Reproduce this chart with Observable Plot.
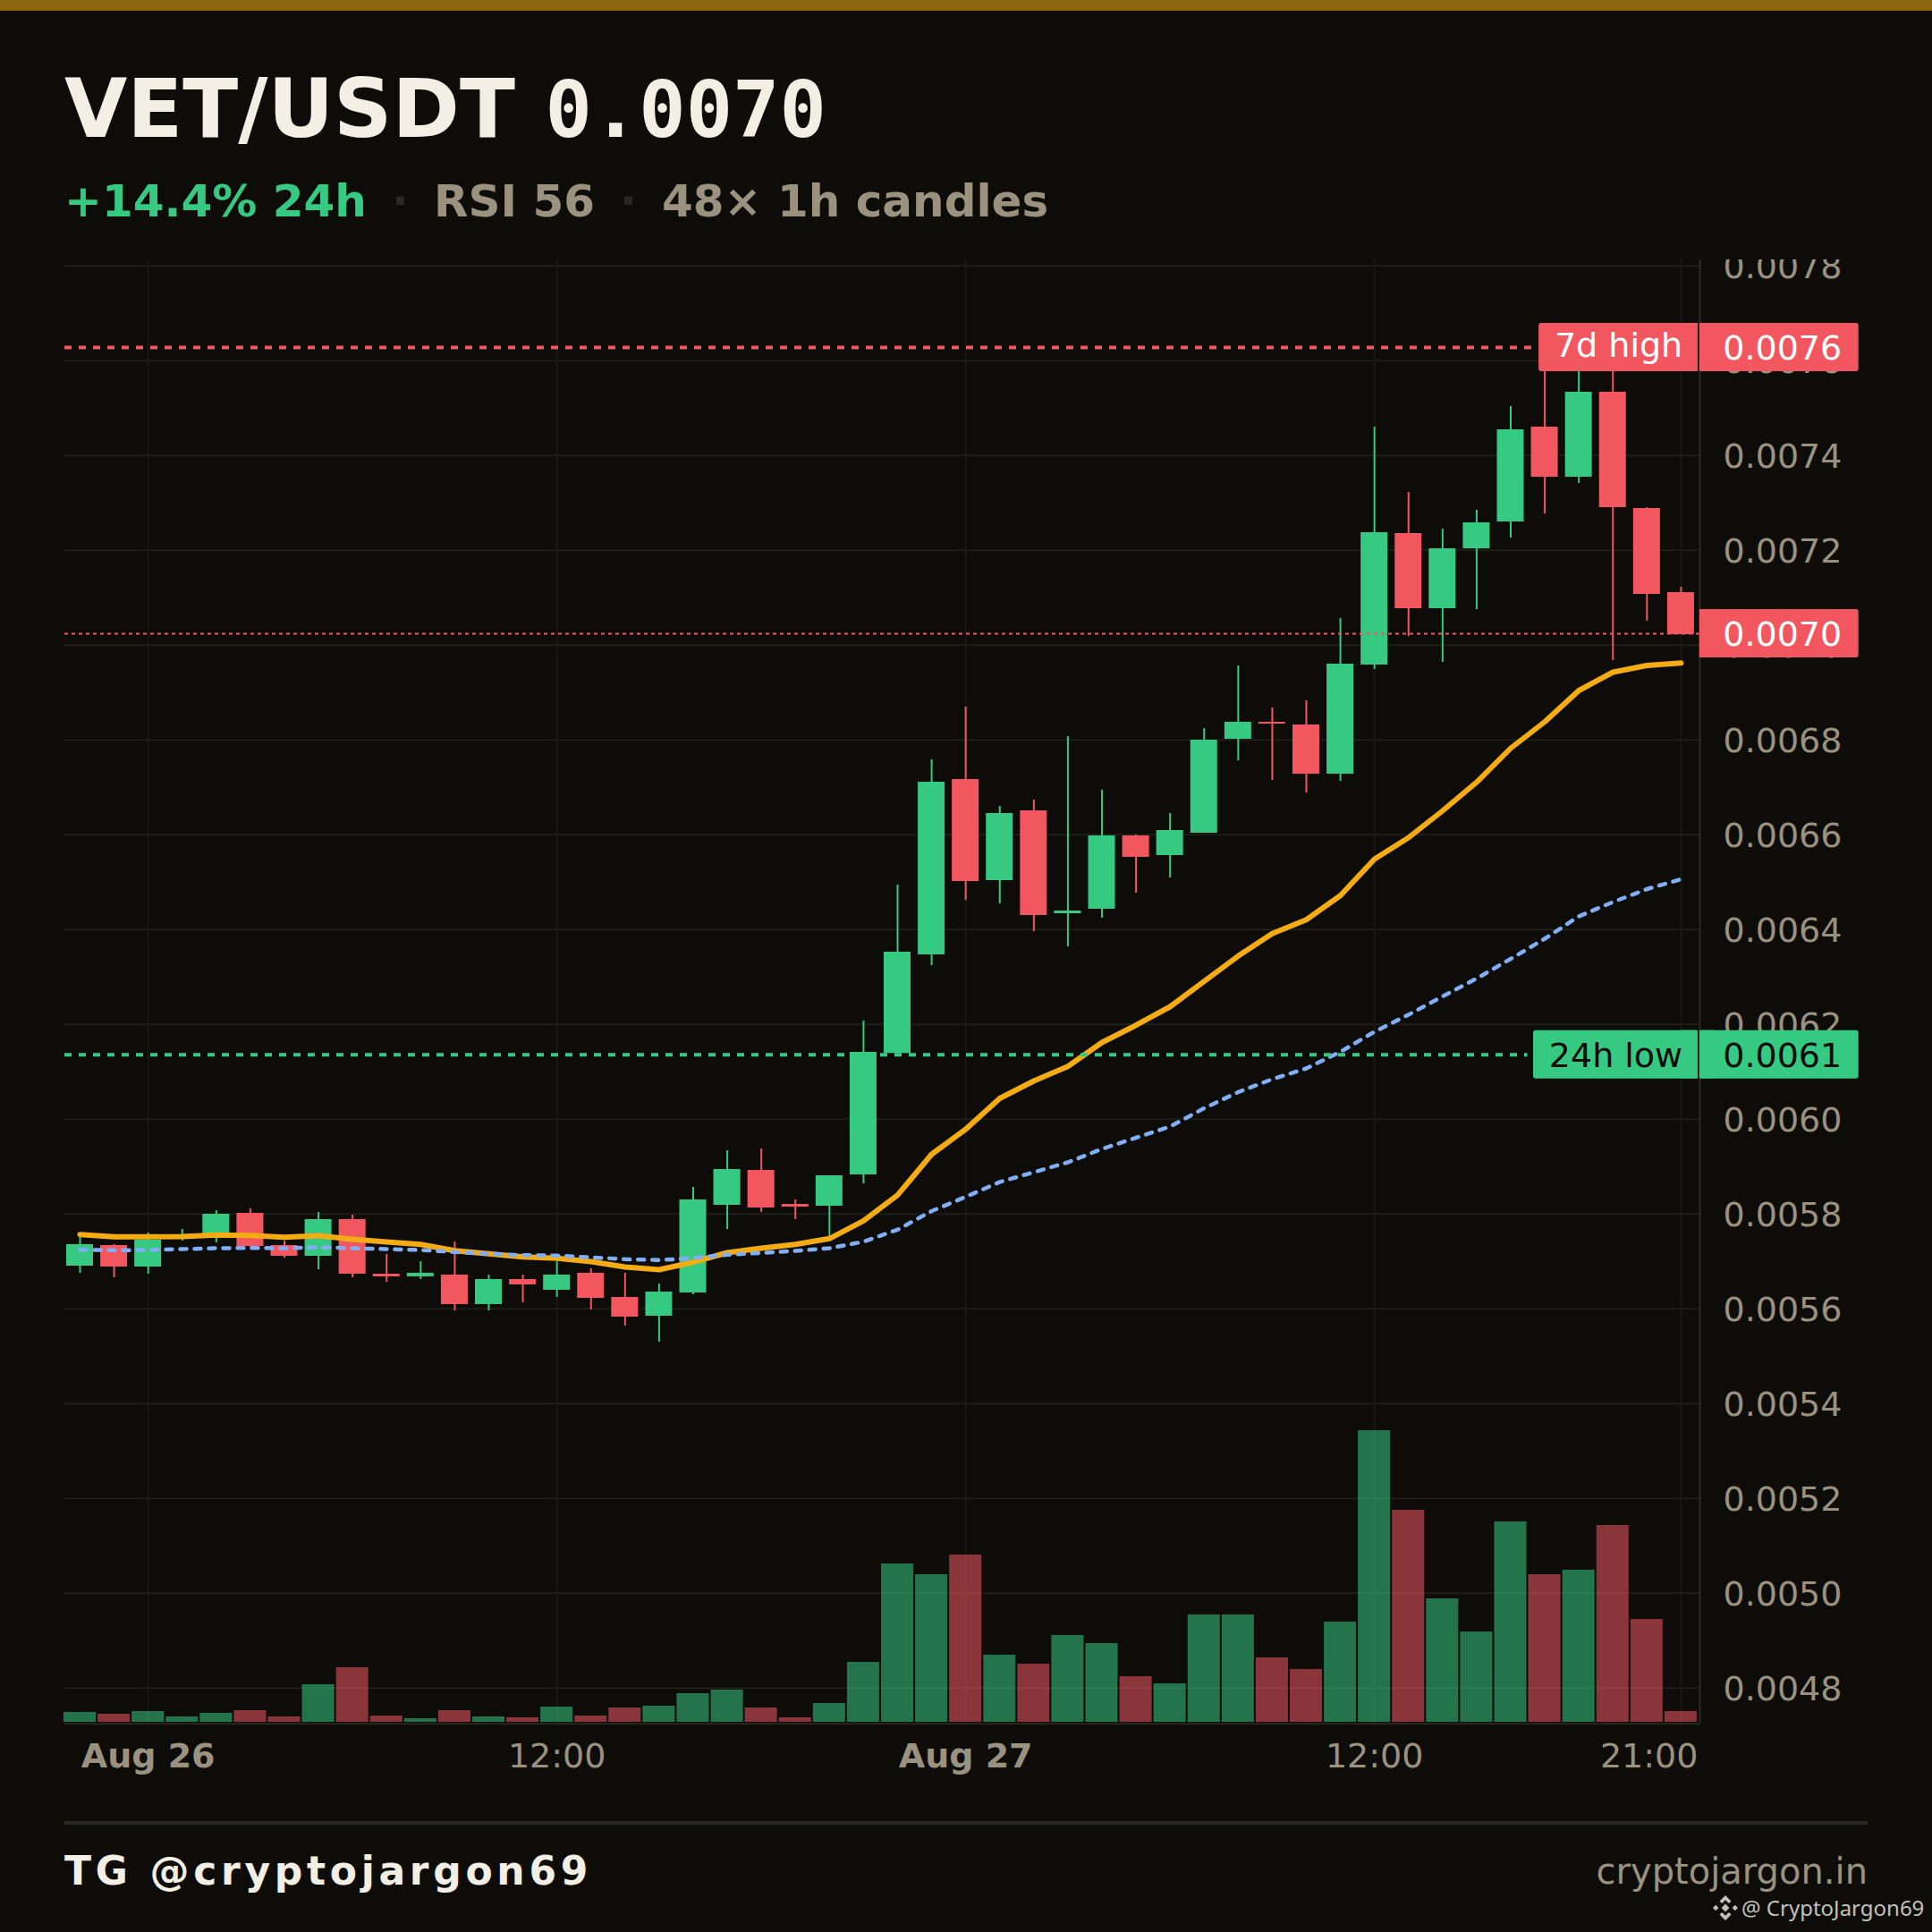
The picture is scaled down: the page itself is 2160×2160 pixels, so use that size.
<!DOCTYPE html>
<html>
<head>
<meta charset="utf-8">
<script src="https://cdn.jsdelivr.net/npm/d3@7"></script>
<script src="https://cdn.jsdelivr.net/npm/@observablehq/plot@0.6"></script>
<style>
  html, body { margin: 0; padding: 0; background: #0d0c09; }
  #page { position: relative; width: 2160px; height: 2160px; overflow: hidden; background: #0d0c09; font-family: "DejaVu Sans", sans-serif; }
  #page > * { position: absolute; white-space: nowrap; line-height: 1; }
  #bar { left: 0; top: 0; width: 2160px; height: 12px; background: #8b6410; }
  .t1 { font-size: 90.8px; font-weight: 700; color: #f3efe4; }
  .t2 { font-family: "DejaVu Sans Mono", monospace; font-size: 87px; font-weight: 700; color: #f3efe4; }
  .sub { font-size: 50px; font-weight: 700; color: #9a927f; }
  .sep { color: #2a2820; }
  #rule { left: 72px; top: 2036px; width: 2016px; height: 4px; background: #2a2720; }
  #chart { left: 0; top: 290px; }
  #chart svg { display: block; }
</style>
</head>
<body>
<div id="page">
  <div id="bar"></div>
  <div class="t1" style="left:72px;top:77px">VET/USDT</div>
  <div class="t2" style="left:609.5px;top:80px">0.0070</div>
  <div class="sub" style="left:72px;top:200px;color:#36c982">+14.4% 24h</div>
  <div class="sub sep" style="left:438px;top:200px">·</div>
  <div class="sub" style="left:485px;top:200px">RSI 56</div>
  <div class="sub sep" style="left:693px;top:200px">·</div>
  <div class="sub" style="left:740px;top:200px">48× 1h candles</div>
  <div id="chart"></div>
  <div id="rule"></div>
  <div style="left:72px;top:2070px;font-size:44px;font-weight:700;letter-spacing:4.7px;color:#f3efe4">TG @cryptojargon69</div>
  <div style="right:72px;top:2072px;font-size:40px;color:#9a927f">cryptojargon.in</div>
  <svg style="left:1915px;top:2119px" width="28" height="28" viewBox="0 0 28 28" fill="#c4c1ba">
    <path d="M14 0l6.5 6.5-2.6 2.6L14 5.2l-3.9 3.9-2.6-2.6zM14 28l-6.5-6.5 2.6-2.6 3.9 3.9 3.9-3.9 2.6 2.6zM0 14l3.2-3.2 3.2 3.2-3.2 3.2zM21.6 14l3.2-3.2L28 14l-3.2 3.2zM14 9.6l4.4 4.4-4.4 4.4L9.6 14z"/>
  </svg>
  <div style="left:1947px;top:2121px;font-family:'Noto Sans',sans-serif;font-size:24px;color:#c4c1ba">@ CryptoJargon69</div>
</div>
<script>
const opens = [.00569002,.00573341,.00568813,.00574976,.00575794,.00580133,.00573341,.00571077,.00578812,.00567304,.00566738,.00567115,.00560889,.00566171,.00563907,.00567492,.00562398,.00558436,.00563342,.00581832,.0058919,.0058202,.00581643,.00588247,.00613849,.00634664,.00671643,.00650323,.00665039,.00643342,.00644286,.00659757,.00655606,.00660322,.00680133,.00683718,.00683152,.00672777,.00695795,.00723529,.00707681,.00720322,.00725982,.00745981,.00735417,.00753341,.00728814,.00711079];
const closes = [.0057353,.00568813,.00574473,.00575353,.00579944,.00573152,.00571077,.00578812,.00567304,.00566738,.00567492,.00560889,.00566171,.00565039,.00567115,.00562209,.00558247,.0056353,.00582964,.00589379,.00581266,.00581455,.00588058,.00614094,.00635226,.00671077,.00650134,.00664473,.00642965,.00643908,.00659757,.00655229,.00660889,.00679944,.00683718,.0068334,.00672775,.00695984,.00723718,.00707681,.00720322,.00725794,.00745415,.00735416,.00753341,.00729003,.00710701,.00702211];
const highs = [.00575102,.0057353,.00575982,.00576737,.00580699,.00581076,.00574284,.00580322,.00579756,.00571454,.00569945,.00574096,.00567115,.00567115,.00569945,.00568436,.00567492,.00565228,.00585605,.00593341,.00593718,.00582964,.00588058,.00620698,.00649377,.00675794,.00686925,.00665983,.00667303,.00680699,.00669379,.00659945,.00664473,.00682397,.00695604,.00686736,.00688246,.00705606,.00745981,.00732208,.00724473,.00728435,.00750321,.00763,.00763,.00763,.00729,.00712211];
const lows = [.00567492,.00566549,.00567304,.00574284,.00573907,.00572964,.005707,.00568247,.00566549,.00565605,.00566171,.00559568,.00559568,.00561266,.00562398,.00559757,.00556361,.00552965,.00562965,.00576738,.00580323,.00578813,.00574977,.0058636,.006135,.00632399,.00646172,.00645418,.00639569,.00636362,.00642399,.00647682,.00650889,.00660322,.00675605,.00671454,.00668813,.00671268,.00694852,.00701832,.00696361,.00707492,.00722586,.0072768,.00734097,.0069674,.00705042,.00702211];
const volumes = [11,9,12,6,10,13,6,42,61,7,4,13,6,5,17,7,16,18,32,36,16,5,21,67,177,165,187,75,65,97,88,51,43,120,120,72,59,112,326,237,138,101,224,165,170,220,115,12];
const emaFast = [.00575661,.0057517,.0057517,.00575226,.00575547,.00575472,.00575094,.00575415,.0057466,.00574094,.00573585,.00572264,.00571585,.00570944,.00570642,.00569944,.00568811,.00568245,.00569811,.0057183,.00572774,.00573585,.00574792,.00578566,.00583963,.00592585,.00597868,.00604377,.00608057,.00611132,.0061617,.00619811,.00623717,.00629057,.00634415,.00639132,.00642076,.0064717,.00654849,.00659377,.00665038,.00671075,.00678245,.00683811,.00690415,.00694283,.00695698,.00696226];
const emaSlow = [.00572453,.0057234,.00572396,.00572585,.00572774,.0057283,.00572774,.00572962,.00572774,.00572585,.00572396,.00571962,.00571585,.00571321,.00571208,.0057083,.00570453,.00570264,.00570698,.00571396,.00571774,.00572208,.00572774,.00574151,.00576679,.00580604,.00583604,.00586736,.00588811,.00590887,.00593717,.00596075,.00598434,.00602302,.00605698,.00608434,.00610698,.00614189,.00618434,.00622019,.00625887,.0062966,.00633811,.00638057,.00642774,.00645792,.00648528,.00650604];
const priceTicks = [.0078,.0076,.0074,.0072,.007,.0068,.0066,.0064,.0062,.006,.0058,.0056,.0054,.0052,.005,.0048];
const timeTicks = [2,14,26,38,47];
const dayTicks = {2:"Aug 26",26:"Aug 27"};
const hourTicks = {14:"12:00",38:"12:00"};
const lastTick = {47:"21:00"};
const high7d = .00762774, low24h = .00613585, lastPrice = .00702396;

const GREEN = "#36c982", RED = "#f25760", MUTED = "#9a927f", BG = "#0d0c09", GRID = "#1e1d19", EDGE = "#2b2922";
const FONT = 38;
const xDomain = [-0.4464, 47.5536], yDomain = [.00472453, .00781264];
const rows = opens.map((o, i) => ({i, o, c: closes[i], h: highs[i], l: lows[i], v: volumes[i], f: emaFast[i], s: emaSlow[i], col: closes[i] >= o ? GREEN : RED}));
const volumeToY = d3.scaleLinear([0, d3.max(volumes)], [.00472774, .00472774 + 326 / 530000]);
const tagHalf = .00005094;
const valueTag = (v, fill, ink) => [
  Plot.rect([v], {x1: 47.55, x2: 52.22, y1: d => d - tagHalf, y2: d => d + tagHalf, fill, rx: 3}),
  Plot.rect([v], {x1: 47.55, x2: 48, y1: d => d - tagHalf, y2: d => d + tagHalf, fill}),
  Plot.text([v], {x: 48.23, y: d => d, text: d => d3.format(".4f")(d), fill: ink, fontSize: FONT, textAnchor: "start", dy: 1.5})
];
const tag = (v, fill, ink, label, labelLeft, labelDy) => [
  Plot.ruleY([v], {x1: xDomain[0], x2: labelLeft - .17, stroke: fill, strokeWidth: 4, strokeDasharray: "8 8"}),
  Plot.rect([v], {x1: labelLeft, x2: 47.5, y1: d => d - tagHalf, y2: d => d + tagHalf, fill, rx: 3}),
  Plot.rect([v], {x1: 47, x2: 47.5, y1: d => d - tagHalf, y2: d => d + tagHalf, fill}),
  Plot.text([label], {x: (labelLeft + 47.5) / 2, y: () => v, text: d => d, fill: ink, fontSize: FONT, dy: labelDy}),
  valueTag(v, fill, ink)
];
const xAxis = (labels, extra) => Plot.axisX(Object.keys(labels).map(Number), {tickSize: 0, tickPadding: 22, tickFormat: d => labels[d], fill: MUTED, fontSize: FONT, label: null, ...extra});

const chart = Plot.plot({
  width: 2160, height: 1710,
  marginLeft: 72, marginRight: 260, marginTop: 0, marginBottom: 73.3,
  style: {background: "transparent", fontFamily: "'DejaVu Sans', sans-serif", overflow: "hidden", color: MUTED},
  x: {domain: xDomain},
  y: {domain: yDomain},
  marks: [
    Plot.ruleY(priceTicks, {stroke: GRID, strokeWidth: 2}),
    Plot.ruleX(timeTicks, {stroke: "#191814", strokeWidth: 2}),
    Plot.axisY(priceTicks, {anchor: "right", tickSize: 0, tickPadding: 26, tickFormat: d3.format(".4f"), fill: MUTED, fontSize: FONT, label: null, dy: 2}),
    xAxis(dayTicks, {fontWeight: 700}),
    xAxis(hourTicks, {}),
    xAxis(lastTick, {textAnchor: "end", dx: 19}),
    Plot.rect(rows, {x1: d => d.i - .473, x2: d => d.i + .473, y1: () => volumeToY(0), y2: d => volumeToY(d.v), fill: "col", fillOpacity: .55}),
    Plot.ruleX(rows, {x: "i", y1: "l", y2: "h", stroke: "col", strokeWidth: 2}),
    Plot.rect(rows, {x1: d => d.i - .394, x2: d => d.i + .394, y1: "o", y2: "c", fill: "col"}),
    Plot.ruleY([lastPrice], {x1: xDomain[0], x2: xDomain[1], stroke: RED, strokeWidth: 2, strokeDasharray: "4 4"}),
    Plot.ruleY([yDomain[0]], {stroke: EDGE, strokeWidth: 2}),
    Plot.ruleX([xDomain[1]], {stroke: EDGE, strokeWidth: 2}),
    Plot.line(rows, {x: "i", y: "f", stroke: "#f5ab12", strokeWidth: 6, curve: "linear"}),
    Plot.line(rows, {x: "i", y: "s", stroke: "#82aef5", strokeWidth: 4.5, strokeDasharray: "7 9", curve: "linear"}),
    tag(high7d, RED, "#ffffff", "7d high", 42.83, -2),
    tag(low24h, GREEN, BG, "24h low", 42.67, 2),
    valueTag(lastPrice, RED, "#ffffff")
  ]
});
document.getElementById("chart").appendChild(chart);
</script>
</body>
</html>
